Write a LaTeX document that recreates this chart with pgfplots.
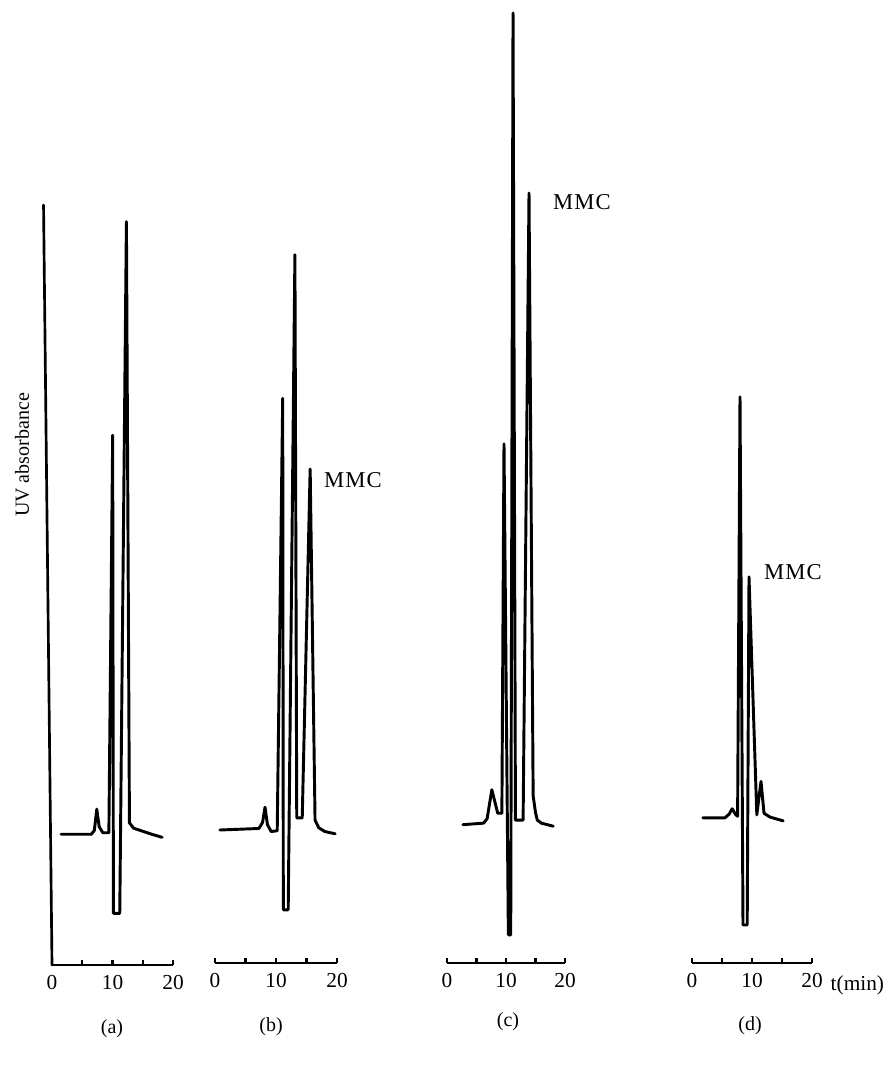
\documentclass[border=0pt]{standalone}
\usepackage{fontspec}
\setmainfont{Liberation Serif}
\usepackage{pgfplots}
\pgfplotsset{compat=1.18}
\pgfplotsset{
  chrom/.style={
    anchor=origin, xmin=0, xmax=20, ymin=0, ymax=12.7, y=57pt,
    clip=false, axis x line=bottom, axis y line=none,
    axis line style={-, line width=1.6pt},
    xtick={0,5,10,15,20}, xticklabels={0,,10,,20},
    xtick align=inside, major tick length=3.5pt,
    every tick/.style={line width=1.6pt, black},
    ytick=\empty,
    /pgf/number format/assume math mode=true,
    xticklabel style={font=\fontsize{16}{18}\selectfont, yshift=-4pt},
  },
  trace/.style={black, line width=2.2pt, line join=round, line cap=round, mark=none},
}
\begin{document}
\begin{tikzpicture}[x=0.75pt, y=0.75pt]
\path[use as bounding box] (0,0) rectangle (887,1067);

% (a)
\begin{axis}[chrom, at={(39pt,76.5pt)}, x=4.5375pt, ymax=10]
\draw[black, line width=2pt, line cap=round] (axis cs:0,0) -- (axis cs:-1.4,10);
\addplot[trace] coordinates {
 (1.5,1.72) (6.5,1.72) (7.0,1.77) (7.4,2.05) (7.8,1.82) (8.4,1.74) (9.4,1.74)
 (10.03,6.97) (10.15,0.68) (11.2,0.68) (12.3,9.78) (12.8,1.87) (13.5,1.80)
 (15.0,1.76) (16.5,1.72) (18.2,1.68)};
\end{axis}

% (b)
\begin{axis}[chrom, at={(161.25pt,78pt)}, x=4.575pt]
\addplot[trace] coordinates {
 (0.8,1.75) (7.2,1.77) (7.8,1.85) (8.2,2.05) (8.6,1.82) (9.2,1.73) (10.2,1.74)
 (11.1,7.43) (11.2,0.70) (12.0,0.70) (13.1,9.32) (13.4,1.91) (14.3,1.91)
 (15.6,6.50) (16.4,1.88) (17.0,1.78) (18.0,1.73) (19.7,1.70)};
\end{axis}

% (c)
\begin{axis}[chrom, at={(335.25pt,78pt)}, x=4.425pt]
\addplot[trace] coordinates {
 (2.7,1.82) (6.2,1.84) (6.8,1.90) (7.6,2.28) (8.6,1.97) (9.3,1.97)
 (9.66,6.83) (10.4,0.37) (10.8,0.37) (11.19,12.50) (11.6,1.88) (12.9,1.88)
 (13.9,10.13) (14.6,2.20) (15.0,1.98) (15.3,1.88) (16.0,1.84) (17.0,1.82) (18.0,1.80)};
\end{axis}

% (d)
\begin{axis}[chrom, at={(519pt,78pt)}, x=4.5pt]
\addplot[trace] coordinates {
 (1.8,1.91) (5.5,1.91) (6.2,1.96) (6.7,2.03) (7.3,1.95) (7.6,1.93)
 (8.0,7.45) (8.5,0.50) (9.2,0.50) (9.5,5.08) (10.8,1.95) (11.5,2.39)
 (12.0,1.97) (13.0,1.92) (15.2,1.87)};
\end{axis}

\node[rotate=90, font=\fontsize{15}{17}\selectfont] at (22,612) {UV absorbance};
\node[font=\fontsize{17}{19}\selectfont\addfontfeatures{LetterSpace=5}] at (353,587) {MMC};
\node[font=\fontsize{17}{19}\selectfont\addfontfeatures{LetterSpace=5}] at (582,865) {MMC};
\node[font=\fontsize{17}{19}\selectfont\addfontfeatures{LetterSpace=5}] at (793,495) {MMC};
\node[anchor=west, font=\fontsize{16}{18}\selectfont] at (826,82) {t(min)};
\node[font=\fontsize{15}{17}\selectfont] at (112,38) {(a)};
\node[font=\fontsize{15}{17}\selectfont] at (271,40) {(b)};
\node[font=\fontsize{15}{17}\selectfont] at (508,45) {(c)};
\node[font=\fontsize{15}{17}\selectfont] at (750,41) {(d)};
\end{tikzpicture}
\end{document}
